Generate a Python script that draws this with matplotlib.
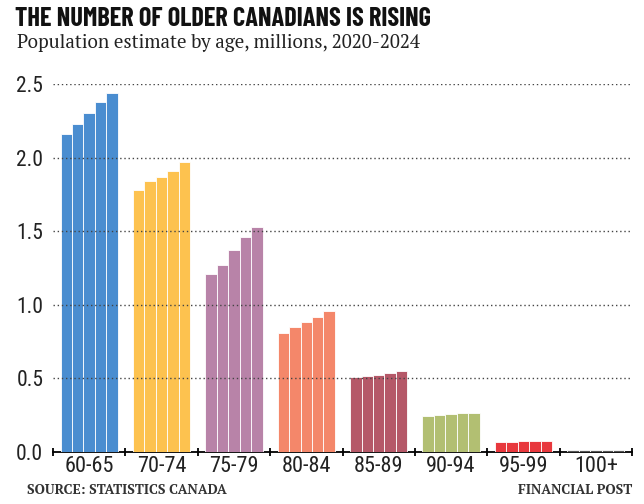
import matplotlib
matplotlib.use('Agg')
import matplotlib.pyplot as plt
import numpy as np

# population estimate, millions, by age group
age_groups = ['60-65', '70-74', '75-79', '80-84', '85-89', '90-94', '95-99', '100+']
years = [2020, 2021, 2022, 2023, 2024]
pop_2020 = [2.16, 1.78, 1.21, 0.81, 0.51, 0.244, 0.066, 0.013]
pop_2021 = [2.23, 1.84, 1.27, 0.85, 0.517, 0.253, 0.070, 0.013]
pop_2022 = [2.30, 1.87, 1.37, 0.88, 0.524, 0.258, 0.072, 0.014]
pop_2023 = [2.38, 1.91, 1.46, 0.915, 0.536, 0.262, 0.074, 0.014]
pop_2024 = [2.44, 1.97, 1.53, 0.955, 0.549, 0.263, 0.076, 0.015]
group_colors = ['#4a8dd0', '#fdc24f', '#b883a8', '#f4876a',
                '#b55868', '#b2bf72', '#e8383d', '#555555']
y_ticks = [0.0, 0.5, 1.0, 1.5, 2.0, 2.5]

series = [pop_2020, pop_2021, pop_2022, pop_2023, pop_2024]

fig = plt.figure(figsize=(6.44, 5.04), dpi=100)
ax = fig.add_axes([53/644, 1 - 452/504, (632 - 53)/644, (452 - 84)/504])

narrow = ['Roboto Condensed', 'DejaVu Sans']
title_font = ['Barlow Condensed', 'Roboto Condensed', 'DejaVu Sans']
serif = ['PT Serif', 'Liberation Serif', 'DejaVu Serif']
group_w = 0.79
bar_w = group_w / len(years)
centers = np.arange(len(age_groups)) + 0.5
for k, vals in enumerate(series):
    xs = centers - group_w/2 + bar_w*(k + 0.5)
    ax.bar(xs, vals, width=bar_w, color=group_colors, edgecolor='white',
           linewidth=0.6, zorder=2)

for y in y_ticks[1:]:
    ax.axhline(y, color='#444444', lw=1.0, ls=(0, (1, 2)), zorder=3)

ax.set_xlim(0, len(age_groups))
ax.set_ylim(0, 2.5)
for s in ['top', 'right', 'left']:
    ax.spines[s].set_visible(False)
ax.spines['bottom'].set_linewidth(1.3)
ax.spines['bottom'].set_zorder(1)

ax.set_xticks(centers)
ax.set_xticklabels(age_groups, fontfamily=narrow, fontsize=16, color='#222222')
ax.set_xticks(np.arange(len(age_groups) + 1), minor=True)
ax.tick_params(axis='x', which='major', length=0, pad=3)
ax.tick_params(axis='x', which='minor', length=6, width=1.3, direction='inout')
ax.set_yticks(y_ticks)
ax.set_yticklabels(['%.1f' % v for v in y_ticks], fontfamily=narrow, fontsize=15.5,
                   color='#222222')
ax.tick_params(axis='y', length=0, pad=7)

fig.text(15/644, 1 - 7/504, 'THE NUMBER OF OLDER CANADIANS IS RISING',
         fontfamily=title_font, fontweight='bold', fontsize=19, va='top', ha='left',
         color='#111111')
fig.text(17/644, 1 - 34/504, 'Population estimate by age, millions, 2020-2024',
         fontfamily=serif, fontsize=13.6, va='top', ha='left', color='#222222')
fig.text(27/644, 1 - 490/504, 'SOURCE: STATISTICS CANADA',
         fontfamily=serif, fontweight='bold', fontsize=9.8, va='center', ha='left',
         color='#333333')
fig.text(632/644, 1 - 490/504, 'FINANCIAL POST',
         fontfamily=serif, fontweight='bold', fontsize=9.8, va='center', ha='right',
         color='#333333')

fig.savefig('out.png', dpi=100)
